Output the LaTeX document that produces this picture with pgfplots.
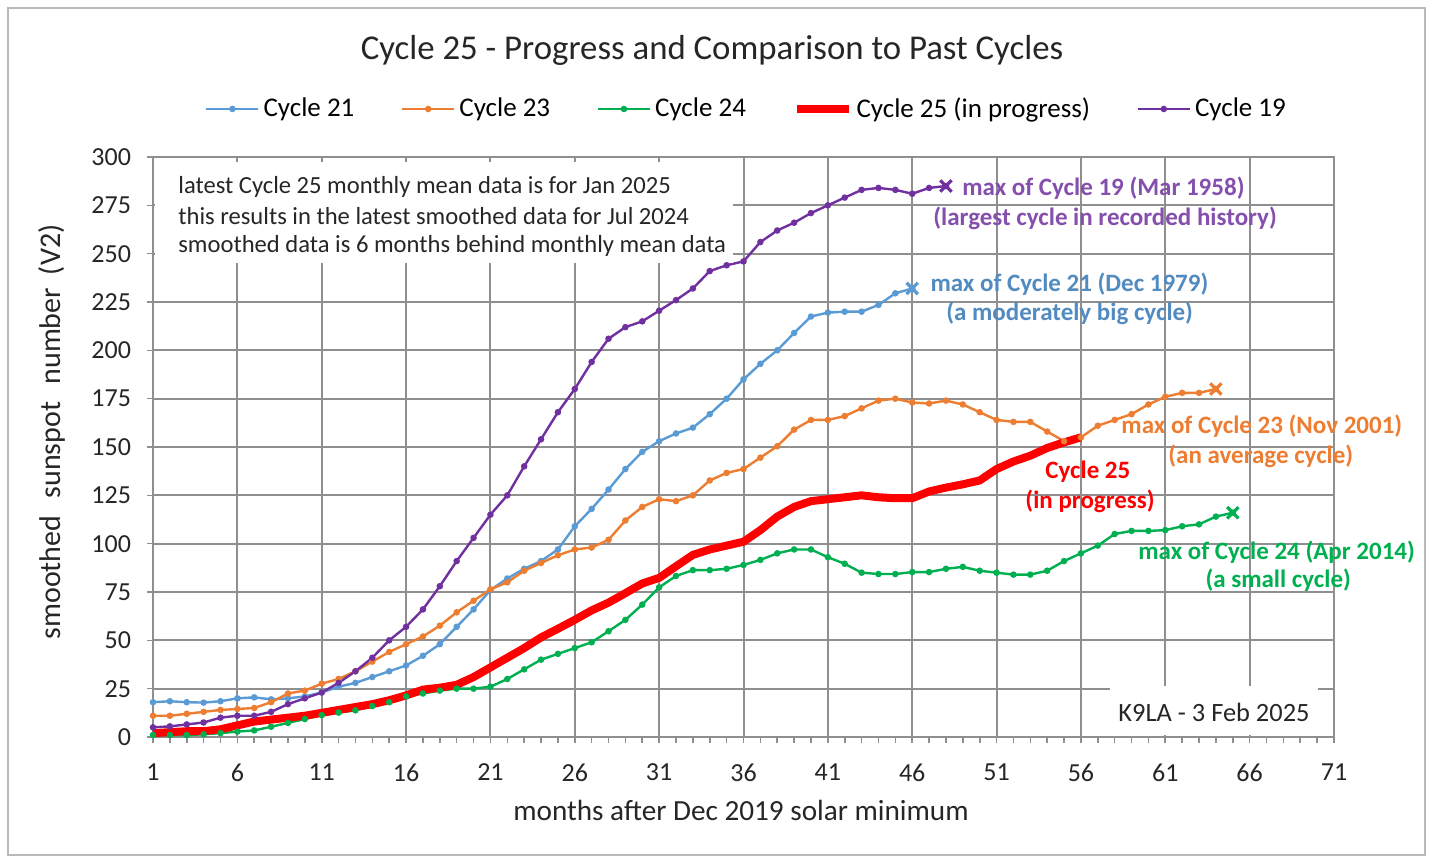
\documentclass[border=0pt]{standalone}
\usepackage{pgfplots}
\pgfplotsset{compat=1.18}
\usepackage{fontspec}
\setmainfont{Carlito}
\definecolor{c21}{HTML}{5B9BD5}
\definecolor{c23}{HTML}{ED7D31}
\definecolor{c24}{HTML}{00B050}
\definecolor{c25}{HTML}{FF0000}
\definecolor{c19}{HTML}{7030A0}
\definecolor{gridc}{HTML}{8F8F8F}
\begin{document}
\begin{tikzpicture}
\useasboundingbox (-76.5pt,-60.5pt) rectangle (641pt,368.5pt);
\fill[white] (-76.5pt,-60.5pt) rectangle (641pt,368.5pt);
\draw[gray!55, line width=1.2pt] (-72.5pt,-59pt) rectangle (636pt,364.5pt);
\begin{axis}[at={(0,0)}, anchor=south west, scale only axis,
  width=590.5pt, height=290pt,
  xmin=1, xmax=71, ymin=0, ymax=300, clip=false,
  xtick={1,6,...,71}, ytick={0,25,...,300},
  minor x tick num=4,
  xtick pos=bottom, ytick pos=left,
  grid=major, major grid style={gridc, line width=1pt},
  axis line style={gridc, line width=1pt},
  tick style={gridc, line width=0.8pt},
  tick align=outside, major tick length=3pt, minor tick length=3pt,
  ticklabel style={font=\fontsize{13}{15}\selectfont, text=black!85},
  yticklabel style={xshift=-4.5pt},
  xticklabel style={yshift=-7pt},
  /pgf/number format/assume math mode=true,
  legend style={at={(0.5034,1.0828)}, anchor=center, draw=none, fill=none,
    legend columns=5, font=\fontsize{13.5}{15}\selectfont,
    /tikz/every even column/.append style={column sep=21.3pt}},
  legend cell align=left,
  legend image code/.code={\draw[mark repeat=2,mark phase=2] plot coordinates {(0pt,0pt) (13pt,0pt) (26pt,0pt)};},
  every axis plot/.append style={line width=1.2pt, mark=*, mark size=1pt},
]
% Cycle 21
\addplot[c21, mark options={fill=c21}] coordinates {
(1,18) (2,18.5) (3,18) (4,17.8) (5,18.5) (6,20) (7,20.5) (8,19.5) (9,20) (10,21)
(11,23) (12,26) (13,28) (14,31) (15,34) (16,37) (17,42) (18,48) (19,57) (20,66)
(21,76) (22,82) (23,87) (24,91) (25,97) (26,109) (27,118) (28,128) (29,138.6) (30,147.5)
(31,153) (32,157) (33,160) (34,167) (35,175) (36,185) (37,193) (38,200) (39,209) (40,217.5)
(41,219.5) (42,220) (43,220) (44,223.5) (45,229.5) (46,232)};
\addlegendentry{Cycle 21}
% Cycle 23
\addplot[c23, mark options={fill=c23}] coordinates {
(1,11) (2,11) (3,12) (4,13) (5,14) (6,14.5) (7,15) (8,18) (9,22.5) (10,24)
(11,27.6) (12,30) (13,34) (14,39) (15,44) (16,48) (17,52) (18,57.6) (19,64.5) (20,70.5)
(21,76.4) (22,80) (23,86) (24,90) (25,94) (26,97) (27,98) (28,102) (29,112) (30,119)
(31,123) (32,122) (33,125) (34,132.7) (35,136.6) (36,138.6) (37,144.5) (38,150.4) (39,159) (40,164)
(41,164) (42,166) (43,170) (44,174) (45,175) (46,173) (47,172.5) (48,174) (49,172) (50,168)
(51,164) (52,163) (53,163) (54,158) (55,153) (56,155) (57,161) (58,164) (59,167) (60,172)
(61,176) (62,178) (63,178) (64,180)};
\addlegendentry{Cycle 23}
% Cycle 24
\addplot[c24, mark options={fill=c24}] coordinates {
(1,1) (2,1) (3,1) (4,1.4) (5,2) (6,2.8) (7,3.4) (8,5.3) (9,7.3) (10,9.3)
(11,11.3) (12,12.6) (13,13.8) (14,16) (15,18) (16,21) (17,22.5) (18,24) (19,25) (20,25)
(21,26) (22,30) (23,35) (24,40) (25,43) (26,46) (27,49) (28,54.7) (29,60.6) (30,68.5)
(31,77.4) (32,83.3) (33,86.3) (34,86.3) (35,87) (36,89) (37,91.6) (38,95) (39,97) (40,97)
(41,93) (42,89.6) (43,85) (44,84.3) (45,84.3) (46,85.3) (47,85.3) (48,87) (49,88) (50,86)
(51,85) (52,84) (53,84) (54,86) (55,91) (56,95) (57,99) (58,105) (59,106.6) (60,106.6)
(61,107) (62,109) (63,110) (64,114) (65,116)};
\addlegendentry{Cycle 24}
% Cycle 25
\addplot[c25, line width=4pt, mark=none] coordinates {
(1,2) (2,2.5) (3,3) (4,3) (5,4) (6,6) (7,8) (8,9) (9,10) (10,11)
(11,12.5) (12,14) (13,15.5) (14,17) (15,19) (16,21.5) (17,24.5) (18,25.5) (19,27) (20,31)
(21,36) (22,41) (23,46) (24,51.5) (25,56) (26,60.6) (27,65.5) (28,69.5) (29,74.4) (30,79.4)
(31,82.3) (32,88.3) (33,94.2) (34,97) (35,99) (36,101) (37,107) (38,114) (39,119) (40,122)
(41,123) (42,124) (43,125) (44,124) (45,123.5) (46,123.5) (47,127) (48,129) (49,130.7) (50,132.7)
(51,138.6) (52,142.5) (53,145.5) (54,149.5) (55,152.4) (56,155)};
\addlegendentry{Cycle 25 (in progress)}
% Cycle 19
\addplot[c19, mark options={fill=c19}] coordinates {
(1,5) (2,5.5) (3,6.5) (4,7.5) (5,10) (6,11) (7,11) (8,13) (9,17) (10,20)
(11,23) (12,28) (13,34) (14,41) (15,50) (16,57) (17,66) (18,78) (19,91) (20,103)
(21,115) (22,125) (23,140) (24,154) (25,168) (26,180) (27,194) (28,206) (29,212) (30,215)
(31,220.5) (32,226) (33,232) (34,241) (35,244) (36,246) (37,256) (38,262) (39,266) (40,271)
(41,275) (42,279) (43,283) (44,284) (45,283) (46,281) (47,284) (48,285)};
\addlegendentry{Cycle 19}
% maxima markers
\addplot[c19, only marks, mark=x, mark size=4pt, line width=1.6pt, forget plot] coordinates {(48,285)};
\addplot[c21, only marks, mark=x, mark size=4pt, line width=1.6pt, forget plot] coordinates {(46,232)};
\addplot[c23, only marks, mark=x, mark size=4pt, line width=1.6pt, forget plot] coordinates {(64,180)};
\addplot[c24, only marks, mark=x, mark size=4pt, line width=1.6pt, forget plot] coordinates {(65,116)};
% info box
\fill[white] (axis cs:1.12,245) rectangle (axis cs:35.4,297.5);
\fill[white] (axis cs:57.7,1) rectangle (axis cs:70.05,26.4);
\begin{scope}[every node/.style={anchor=west, inner sep=0pt, font=\fontsize{12.3}{14}\selectfont}]
\node[text=black!85] at (axis cs:2.48,284.5) {latest Cycle 25 monthly mean data is for Jan 2025};
\node[text=black!85] at (axis cs:2.48,269.5) {this results in the latest smoothed data for Jul 2024};
\node[text=black!85] at (axis cs:2.48,254) {smoothed data is 6 months behind monthly mean data};
\node[text=black!85, font=\fontsize{13.2}{15}\selectfont] at (axis cs:58.2,12.9) {K9LA - 3 Feb 2025};
\end{scope}
\begin{scope}[every node/.style={anchor=west, inner sep=0pt, font=\fontsize{12.5}{14}\selectfont\bfseries}]
\node[text=c19!85] at (axis cs:48.95,284) {max of Cycle 19 (Mar 1958)};
\node[text=c19!85] at (axis cs:47.23,268.5) {(largest cycle in recorded history)};
\node[text=c21!90!black] at (axis cs:47.06,234.3) {max of Cycle 21 (Dec 1979)};
\node[text=c21!90!black] at (axis cs:48.0,219.3) {(a moderately big cycle)};
\node[text=c23] at (axis cs:58.38,160.9) {max of Cycle 23 (Nov 2001)};
\node[text=c23] at (axis cs:61.16,145.3) {(an average cycle)};
\node[text=c25] at (axis cs:53.87,137) {Cycle 25};
\node[text=c25] at (axis cs:52.69,122) {(in progress)};
\node[text=c24] at (axis cs:59.38,95.7) {max of Cycle 24 (Apr 2014)};
\node[text=c24] at (axis cs:63.36,81.2) {(a small cycle)};
\end{scope}
\end{axis}
\node[font=\fontsize{17.4}{20}\selectfont, text=black!85] at (279.5pt,343.5pt) {Cycle 25 - Progress and Comparison to Past Cycles};
\node[font=\fontsize{14.6}{17}\selectfont, text=black!85] at (294pt,-36.5pt) {months after Dec 2019 solar minimum};
\node[font=\fontsize{15}{17}\selectfont, text=black!85, rotate=90] at (-50.5pt,152.5pt) {smoothed\hspace{0.35em} sunspot\hspace{0.35em} number\hspace{0.2em} (V2)};
\end{tikzpicture}
\end{document}
